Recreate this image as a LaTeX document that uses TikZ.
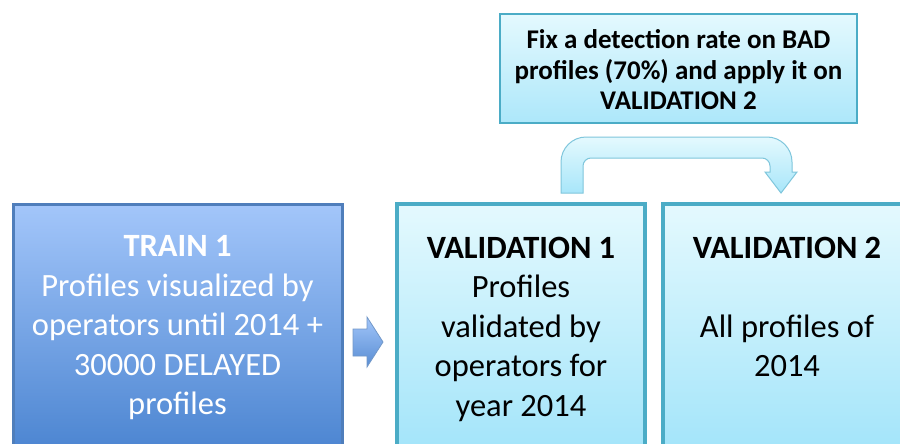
\documentclass[tikz,border=0pt]{standalone}
\usepackage{fontspec}
\setmainfont{Carlito}
\definecolor{trainTop}{HTML}{A3C6FA}
\definecolor{trainBot}{HTML}{4580CE}
\definecolor{trainLine}{HTML}{4F7EBB}
\definecolor{valTop}{HTML}{E4F9FE}
\definecolor{valBot}{HTML}{9EE3F9}
\definecolor{valLine}{HTML}{4BACC6}
\definecolor{arrLine}{HTML}{7FC6DC}
\tikzset{
  trainbox/.style={draw=trainLine, line width=3pt, top color=trainTop, bottom color=trainBot},
  valbox/.style={draw=valLine, line width=3.5pt, top color=valTop, bottom color=valBot},
  notebox/.style={draw=valLine, line width=1.2pt, top color=valTop, bottom color=valBot!85},
  bigtext/.style={align=center, font=\fontsize{32.5}{39.5}\selectfont},
  notetext/.style={align=center, font=\fontsize{27}{30.5}\selectfont\bfseries},
  bendarrow/.style={draw=arrLine, line width=1pt, top color=valTop, bottom color=valBot!90},
  smallarrow/.style={draw=trainLine!80, line width=0.8pt, top color=trainTop, bottom color=trainBot!90},
}
\begin{document}
\begin{tikzpicture}[x=1pt,y=-1pt]
\useasboundingbox (0,0) rectangle (900,444);
\clip (0,0) rectangle (900,444);
\fill[white] (0,0) rectangle (900,444);

% three stage boxes, running off the bottom edge
\path[trainbox] (13,204) rectangle (342,470);
\path[valbox] (397,204) rectangle (645,470);
\path[valbox] (663,204) rectangle (920,470);

\node[bigtext, text=white] (train) at (177.5,328)
  {\textbf{TRAIN 1}\\Profiles visualized by\\operators until 2014 +\\30000 DELAYED\\profiles};
\node[bigtext] (val1) at (521,329)
  {\textbf{VALIDATION 1}\\Profiles\\validated by\\operators for\\year 2014};
\node[bigtext] (val2) at (787,307)
  {\textbf{VALIDATION 2}\\[39.5pt]All profiles of\\2014};

% small block arrow between the first two boxes
\path[smallarrow] (353,329) -- (367,329) -- (367,317) -- (383,342)
  -- (367,367) -- (367,356) -- (353,356) -- cycle;

% note box above the validation boxes
\node[notebox, minimum width=357pt, minimum height=109pt, inner sep=0pt] (note) at (678.5,68.5) {};
\node[notetext] (notetxt) at (678.5,70)
  {Fix a detection rate on BAD\\profiles (70\%) and apply it on\\VALIDATION 2};

% bent arrow from VALIDATION 1 over to VALIDATION 2
\path[bendarrow] (561,193) -- (561,162)
  .. controls (561,148.2) and (572.2,137) .. (586,137)
  -- (767,137)
  .. controls (780.8,137) and (792,148.2) .. (792,162)
  -- (792,172) -- (797,172) -- (781,193) -- (765,172) -- (770,172) -- (770,166)
  .. controls (770,161.6) and (766.4,158) .. (762,158)
  -- (591,158)
  .. controls (586.6,158) and (583,161.6) .. (583,166)
  -- (583,193) -- cycle;
\end{tikzpicture}
\end{document}
